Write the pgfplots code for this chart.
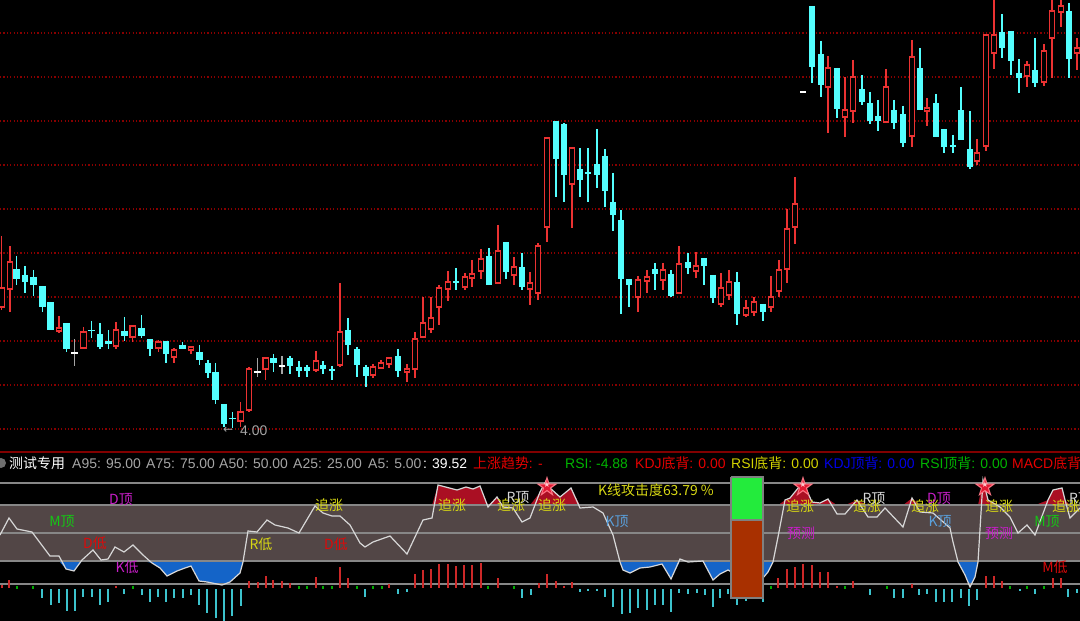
\documentclass[border=0pt]{standalone}
\usepackage{pgfplots}
\pgfplotsset{compat=1.18}
\usepackage{pgfplotstable}
\usepackage{fontspec}
\setmainfont{Liberation Sans}
\newfontfamily\cjk{Noto Sans CJK SC}
\newfontfamily\dejavu{DejaVu Sans}

\definecolor{upred}{RGB}{235,50,50}
\definecolor{dncyan}{RGB}{84,255,255}
\definecolor{gridred}{RGB}{135,0,0}
\definecolor{band}{RGB}{82,70,70}
\definecolor{bandline}{RGB}{135,135,135}
\definecolor{indblue}{RGB}{20,100,200}
\definecolor{indred}{RGB}{170,15,35}
\definecolor{histred}{RGB}{205,40,40}
\definecolor{histcyan}{RGB}{60,195,205}
\definecolor{histgreen}{RGB}{0,170,0}
\definecolor{lblyellow}{RGB}{215,215,20}
\definecolor{lblmag}{RGB}{200,30,200}
\definecolor{lblgreen}{RGB}{20,200,20}
\definecolor{lblred}{RGB}{220,10,10}
\definecolor{lblblue}{RGB}{90,160,220}
\definecolor{barbrown}{RGB}{168,48,0}
\definecolor{bargreen}{RGB}{35,235,60}
\definecolor{hdrgray}{RGB}{165,165,165}
\definecolor{icongray}{RGB}{110,110,110}
\definecolor{hdrgreen}{RGB}{0,180,0}
\definecolor{hdrblue}{RGB}{0,0,230}
\definecolor{hdryellow}{RGB}{210,210,0}
\definecolor{hdrred}{RGB}{230,0,0}
\definecolor{sepred}{RGB}{130,0,0}
\definecolor{starpink}{RGB}{255,120,135}
\definecolor{starred}{RGB}{225,25,50}
\definecolor{starlight}{RGB}{255,200,205}
\definecolor{linewhite}{RGB}{215,215,215}

\newcommand\fs{\fontsize{14}{16}\selectfont}

% candles: x, body top, body bottom, wick top, wick bottom (screen units, y downward)
\pgfplotstableread{
x bt bb wt wb
1.7 288 307 236 310
10 262 289 246 312
59 328 331 316 333
83.3 332 348 327 348
116 330 346 322 349
132.7 326 337 326 342
158.3 342 348 340 352
174 350 357 348 363
191 347 350 347 354
240.7 412 421 402 427
249 369 410 367 412
265.7 358 369 358 380
316 361 370 351 372
340 332 365 283 367
373 367 375 364 378
381 363 368 360 368
389 358 364 358 368
407 369 372 364 382
415 339 369 332 378
423 323 337 297 337
431 318 329 297 333
439 288 307 285 325
448 282 289 271 301
465 277 287 273 290
472 274 278 260 287
481 259 271 249 279
498 251 283 225 283
514 267 275 257 285
530 283 289 272 305
538 246 293 243 300
547 138 227 138 242
572 148 184 148 228
638 280 297 276 312
647 277 281 270 293
663 270 280 263 290
679 264 293 246 293
696 266 271 252 278
721 288 304 273 307
729 282 295 270 300
746 308 315 300 317
754 302 312 297 316
771 297 307 276 312
779 270 291 260 297
787 229 269 209 283
795 204 227 177 244
828 68 87 56 133
845 110 117 77 137
853 77 111 60 123
886 87 122 69 123
912 57 136 40 147
927 108 111 98 126
977 153 161 139 165
986 35 146 35 151
994 35 53 0 69
1027 65 76 61 87
1044 51 82 44 86
1052 11 38 0 78
1061 6 12 0 27
1077 48 53 38 70
}\up

\pgfplotstableread{
x bt bb wt wb
16.7 269 279 256 285
25 275 282 266 293
33.3 277 285 270 296
42.3 286 307 286 312
50.7 302 330 302 330
66.7 323 349 323 352
91.7 330 331 321 338
100 334 347 323 349
108.3 341 344 330 349
124.3 331 336 317 341
141.3 328 336 315 338
150 339 349 339 356
166 341 354 341 363
182.7 345 349 342 349
199.3 352 360 345 365
208 363 373 360 378
215.7 372 400 363 404
224 404 424 404 427
232.3 418 419 412 428
273.3 358 363 354 372
290 358 366 356 374
299 367 371 361 377
307 367 371 365 377
323 365 369 361 374
332 369.5 370.5 366 380
348 330 345 318 355
357 349 365 347 377
366 367 376 365 387
398 356 371 349 377
456 281.5 282.5 268 290
489 256 285 248 285
506 242 272 242 279
522 267 287 253 290
556 121 159 121 197
564 124 175 123 202
580 169 180 148 197
588 172.5 173.5 148 202
597 164 175 129 188
605 156 191 149 207
613 202 215 173 231
621 220 279 210 314
629 279 285 279 307
655 269 274 263 290
671 274 296 270 297
688 262 268 253 274
704 258 266 258 285
713 275 298 275 303
737 282 314 272 325
763 304 312 304 321
812 6 67 6 83
821 54 85 41 97
837 68 109 68 118
862 89 102 75 105
870 103 121 92 124
878 116 121 100 131
894 110 123 100 129
903 114 143 106 147
920 68 110 48 110
936 103 137 94 137
944 129 147 129 153
953 145.5 146.5 135 153
961 110 140 87 140
970 149 167 111 169
1002 32 48 14 58
1011 31 61 31 75
1019 73 78 59 93
1035 70 83 38 87
1069 11 59 3 78
}\down

\pgfplotstableread{
x bt bb wt wb
74.7 352.5 353.5 339 366
257.3 371.5 372.5 358 377
282 365.5 366.5 356 374
803 91.4 92.6 91.4 92.6
}\flat

% indicator line
\pgfplotstableread{
x y
0 535
9 518
17 529
32 532
50 556
59 556
66 569
74 571
82 560
93 550
101 560
108 559
115 547
124 552
133 545
143 555
152 563
160 568
167 576
177 571
185 568
191 566
199 581
207 582
222 585
230 582
240 573
243 562
248 531
257 532
267 520
275 525
288 528
299 533
315 506
323 513
332 516
340 516
350 525
360 543
365 547
373 542
390 536
407 554
423 520
432 518
438 485
457 490
466 487
473 489
480 486
488 507
497 497
503 507
513 508
522 522
530 518
540 492
546 481
550 488
560 497
571 488
580 508
593 507
603 513
613 535
620 562
623 570
630 573
640 568
650 567
662 564
671 579
680 559
688 562
703 561
713 580
720 574
728 570
737 575
755 580
763 578
768 572
773 562
778 537
785 500
790 498
803 482
812 502
820 503
828 499
837 514
845 514
857 500
868 517
877 517
885 508
903 527
912 498
920 512
933 513
950 528
953 542
958 562
965 575
970 587
975 577
978 562
983 480
988 500
1000 507
1010 517
1018 533
1027 525
1035 535
1048 500
1053 490
1062 488
1065 500
1070 518
1080 508
}\ind

\pgfplotstableread{
x t
2 585
9 580
116 586
249 581
258 582
266 576
273 580
282 581
290 583
316 577
340 567
348 578
389 584
415 574
423 570
431 569
439 564
448 564
456 566
464 565
472 565
481 563
498 578
539 583
547 574
556 581
564 586
572 582
778 578
787 569
795 567
803 564
812 565
820 572
828 572
837 586
853 581
912 584
986 576
994 576
1002 581
1053 578
1061 578
}\hred

\pgfplotstableread{
x b
42 598
51 605
59 603
67 611
75 611
83 597
92 597
100 605
108 602
124 594
142 595
150 602
158 597
166 602
174 598
183 598
191 595
199 605
207 613
216 618
224 621
232 616
241 606
365 597
398 594
407 592
522 598
531 595
580 592
588 591
597 591
605 597
613 607
622 614
630 613
638 608
647 610
655 605
663 605
671 612
679 593
688 594
697 593
705 595
713 607
720 598
728 594
737 605
746 601
754 597
763 602
870 595
894 598
903 598
919 595
927 594
936 602
944 602
952 602
961 598
969 606
977 600
1020 591
1035 594
1068 597
1077 593
}\hcyan

\pgfplotstableread{
x t
17 586
33 586
133 586
299 586
307 586
323 586
332 586
357 586
373 586
382 586
488 586
514 586
771 586
845 586
887 586
1010 586
1027 586
1044 586
}\hgreen

\pgfplotsset{
  seg/.style 2 args={quiver={u=0, v={#1}}, mark=none, line cap=butt, line width=#2},
}

\begin{document}
\begin{tikzpicture}[x=1bp,y=1bp]
\fill[black] (0,0) rectangle (1080,621);
\begin{axis}[at={(0,0)}, anchor=south west, width=1080bp, height=621bp, scale only axis,
  xmin=0, xmax=1080, ymin=0, ymax=621, y dir=reverse, hide axis]

% indicator fills (blue below the lower band, red above the upper band)
\addplot[fill=indblue, draw=none] table[x=x, y expr={max(\thisrow{y},561)}] {\ind} \closedcycle;
\addplot[fill=indred, draw=none] coordinates {(0,0) (1080,0) (1080,505) (0,505) (0,0)};
\addplot[fill=black, draw=none] table[x=x, y expr={min(\thisrow{y},505)}] {\ind} \closedcycle;
\addplot[fill=band, draw=none] coordinates {(0,505) (1080,505) (1080,561) (0,561) (0,505)};

% dotted price grid
\pgfplotsinvokeforeach{33,77,121,165,209,253,297,341,385,429}{
  \addplot[gridred, line width=1.1bp, dash pattern=on 1.1bp off 2.3bp] coordinates {(0,#1) (1080,#1)};
}

% wicks
\addplot[upred, seg={\thisrow{wb}-\thisrow{wt}}{1.1bp}] table[x=x, y=wt] {\up};
\addplot[dncyan, seg={\thisrow{wb}-\thisrow{wt}}{1.1bp}] table[x=x, y=wt] {\down};
\addplot[hdrgray, seg={\thisrow{wb}-\thisrow{wt}}{1.1bp}] table[x=x, y=wt] {\flat};
% bodies
\addplot[upred, seg={\thisrow{bb}-\thisrow{bt}+1.2}{6.8bp}] table[x=x, y expr={\thisrow{bt}-0.6}] {\up};
\addplot[black, seg={max(\thisrow{bb}-\thisrow{bt}-1.2,0)}{4.4bp}] table[x=x, y expr={\thisrow{bt}+0.6}] {\up};
\addplot[dncyan, seg={\thisrow{bb}-\thisrow{bt}+0.4}{6.6bp}] table[x=x, y expr={\thisrow{bt}-0.2}] {\down};
\addplot[white, seg={\thisrow{bb}-\thisrow{bt}+0.4}{6.6bp}] table[x=x, y expr={\thisrow{bt}-0.2}] {\flat};

% separator
\addplot[sepred, line width=1.6bp] coordinates {(0,452) (1080,452)};

% band lines
\pgfplotsinvokeforeach{483,505,533,561,584}{
  \addplot[bandline, line width=1.3bp] coordinates {(0,#1) (1080,#1)};
}

% histogram
\addplot[histred, seg={\thisrow{t}-588}{1.7bp}] table[x=x, y expr=588] {\hred};
\addplot[histcyan, seg={\thisrow{b}-589}{1.7bp}] table[x=x, y expr=589] {\hcyan};
\addplot[histgreen, seg={589-\thisrow{t}}{1.6bp}] table[x=x, y=t] {\hgreen};

% indicator line
\addplot[linewhite, line width=1.2bp] table[x=x,y=y] {\ind};

% big bar
\addplot[fill=bargreen, draw=none] coordinates {(731,477) (763,477) (763,520) (731,520) (731,477)};
\addplot[fill=barbrown, draw=none] coordinates {(731,520) (763,520) (763,598) (731,598) (731,520)};
\addplot[gray, line width=1.1bp] coordinates {(731,477) (763,477) (763,598) (731,598) (731,477)};
\addplot[gray, line width=1.1bp] coordinates {(731,520) (763,520)};

% stars
\addplot[only marks, mark=text, text mark as node=true, text mark={★},
  text mark style={font=\fontsize{28}{28}\selectfont\dejavu, text=starpink, inner sep=0pt}]
  coordinates {(547,486) (803,486) (985,486)};
\addplot[only marks, mark=text, text mark as node=true, text mark={★},
  text mark style={font=\fontsize{19}{19}\selectfont\dejavu, text=starred, inner sep=0pt}]
  coordinates {(547,487) (803,487) (985,487)};
\addplot[only marks, mark=text, text mark as node=true, text mark={★},
  text mark style={font=\fontsize{8}{8}\selectfont\dejavu, text=starlight, inner sep=0pt}]
  coordinates {(547,485) (803,485) (985,485)};

% labels in indicator panel
\tikzset{lb/.style={font=\fs\cjk, inner sep=0pt, anchor=base}}
\node[lb, text=lblmag] at (121,504) {D顶};
\node[lb, text=lblgreen] at (62,526) {M顶};
\node[lb, text=lblred] at (95,548) {D低};
\node[lb, text=lblmag] at (127,572) {K低};
\node[lb, text=lblyellow] at (261,549) {R低};
\node[lb, text=lblyellow] at (329,510) {追涨};
\node[lb, text=lblred] at (336,549) {D低};
\node[lb, text=lblyellow] at (452,510) {追涨};
\node[lb, text=lblyellow] at (511,510) {追涨};
\node[lb, text=linewhite] at (518,502) {R顶};
\node[lb, text=lblyellow] at (552,510) {追涨};
\node[lb, text=lblyellow] at (656,495) {K线攻击度63.79 \%};
\node[lb, text=lblblue] at (617,526) {K顶};
\node[lb, text=lblyellow] at (800,511) {追涨};
\node[lb, text=lblmag] at (801,538) {预测};
\node[lb, text=lblyellow] at (867,511) {追涨};
\node[lb, text=linewhite] at (874,503) {R顶};
\node[lb, text=lblyellow] at (925,511) {追涨};
\node[lb, text=lblmag] at (939,503) {D顶};
\node[lb, text=lblblue] at (940,526) {K顶};
\node[lb, text=lblyellow] at (999,511) {追涨};
\node[lb, text=lblmag] at (999,538) {预测};
\node[lb, text=lblgreen] at (1047,526) {M顶};
\node[lb, text=lblred] at (1055,572) {M低};
\node[lb, text=lblyellow] at (1066,511) {追涨};
\node[lb, text=linewhite, anchor=base west] at (1069,503) {R顶};

% low price marker
\node[font=\fontsize{12}{12}\selectfont\dejavu, text=hdrgray, inner sep=0pt, anchor=base west] at (223,434) {←};
\node[font=\fs, text=hdrgray, inner sep=0pt, anchor=base west] at (240,436) {4.00};

% header
\tikzset{hd/.style={font=\fs, inner sep=0pt, anchor=base west}}
\node[circle, fill=icongray, minimum size=10bp, inner sep=0pt] at (1,463) {};
\node[hd, text=white, font=\fs\cjk] at (9,468.5) {测试专用};
\node[hd, text=hdrgray] at (72,468.5) {A95: 95.00};
\node[hd, text=hdrgray] at (146,468.5) {A75: 75.00};
\node[hd, text=hdrgray] at (219,468.5) {A50: 50.00};
\node[hd, text=hdrgray] at (293,468.5) {A25: 25.00};
\node[hd, text=hdrgray] at (368,468.5) {A5: 5.00};
\node[hd, text=white] at (423,468.5) {: 39.52};
\node[hd, text=hdrred] at (473,468.5) {{\cjk 上涨趋势}: -};
\node[hd, text=hdrgreen] at (565,468.5) {RSI: -4.88};
\node[hd, text=hdrred] at (635,468.5) {KDJ{\cjk 底背}: 0.00};
\node[hd, text=hdryellow] at (731,468.5) {RSI{\cjk 底背}: 0.00};
\node[hd, text=hdrblue] at (824,468.5) {KDJ{\cjk 顶背}: 0.00};
\node[hd, text=hdrgreen] at (920,468.5) {RSI{\cjk 顶背}: 0.00};
\node[hd, text=hdrred] at (1012,468.5) {MACD{\cjk 底背}};
\end{axis}
\pgfresetboundingbox
\path[use as bounding box] (0,0) rectangle (1080,621);
\end{tikzpicture}
\end{document}
